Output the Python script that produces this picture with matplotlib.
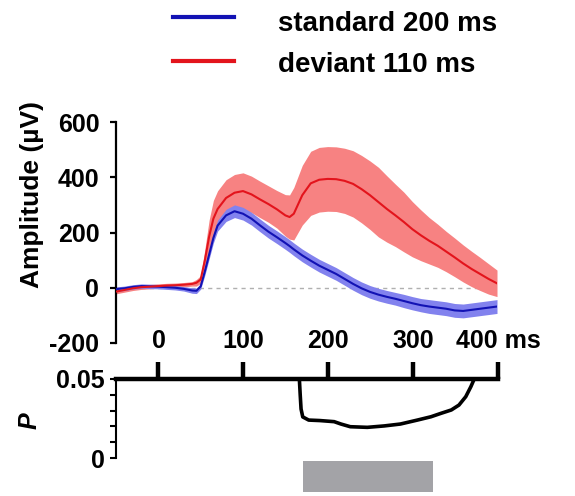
import matplotlib
matplotlib.use('Agg')
import matplotlib.pyplot as plt
from matplotlib.lines import Line2D
import numpy as np

plt.rcParams['font.family'] = ['Liberation Sans', 'DejaVu Sans']
plt.rcParams['font.weight'] = 'bold'
plt.rcParams['axes.unicode_minus'] = False

# time axis (ms)
time = [-50, -40, -30, -20, -10, 0, 10, 20, 30, 40, 45, 50, 55, 60, 65, 70,
        80, 90, 100, 110, 120, 130, 140, 150, 155, 160, 170, 180, 190, 200,
        210, 220, 230, 240, 250, 260, 270, 280, 290, 300, 310, 320, 330, 340,
        350, 360, 370, 380, 390, 400]

# standard 200 ms: mean and sem (uV)
std_mean = [-5, -2, 3, 6, 5, 4, 2, 0, -4, -10, -11, 5, 60, 120, 180, 225,
            262, 277, 268, 250, 226, 203, 183, 162, 151, 139, 117, 98, 80, 65,
            50, 32, 14, -2, -15, -25, -33, -40, -48, -56, -63, -68, -72, -76,
            -82, -84, -80, -76, -72, -68]
std_sem = [8, 8, 8, 8, 8, 8, 8, 8, 8, 10, 10, 10, 14, 16, 18, 20,
           22, 23, 23, 23, 23, 23, 23, 23, 23, 23, 23, 23, 23, 23,
           23, 23, 23, 23, 23, 23, 23, 23, 24, 24, 24, 25, 25, 25,
           25, 25, 25, 25, 25, 25]

# deviant 110 ms: mean and sem (uV)
dev_mean = [-14, -8, -2, 2, 4, 6, 8, 9, 11, 14, 18, 30, 100, 185, 250, 285,
            325, 344, 350, 338, 320, 303, 284, 262, 256, 268, 335, 378, 391, 394,
            393, 387, 376, 357, 335, 310, 285, 262, 238, 212, 190, 170, 152, 131,
            110, 88, 68, 50, 32, 16]
dev_sem = [8, 8, 8, 8, 8, 8, 8, 8, 8, 8, 12, 14, 40, 60, 66, 66,
           66, 66, 66, 66, 66, 66, 68, 75, 80, 95, 108, 116, 117, 117,
           117, 118, 120, 122, 124, 126, 120, 113, 108, 100, 92, 84, 78, 73,
           70, 67, 64, 60, 55, 48]

# p values of the difference
p_time = [166, 167, 168, 170, 177, 190, 207, 215, 226, 246, 266, 285, 305,
          321, 333, 345, 354, 362, 368, 372]
p_val = [0.050, 0.040, 0.031, 0.026, 0.024, 0.0237, 0.023, 0.0215, 0.0198,
         0.0194, 0.0203, 0.0215, 0.024, 0.0261, 0.0283, 0.0304, 0.0335,
         0.0388, 0.0451, 0.050]

# significant window (ms)
sig_start = 170
sig_end = 323

labels = ['standard 200 ms', 'deviant 110 ms']
x_ticks = [0, 100, 200, 300, 400]
x_labels = ['0', '100', '200', '300', '400 ms']
y_ticks = [-200, 0, 200, 400, 600]

blue = '#1212b4'
blue_band = '#8282ee'
red = '#e3141c'
red_band = '#f78282'

W, H = 575, 496
fig = plt.figure(figsize=(W / 100, H / 100), dpi=100)

# amplitude panel
ax = fig.add_axes([116 / W, 1 - 343 / H, 381 / W, 221 / H])
t = np.array(time)
ax.axhline(0, color='#b0b0b0', lw=1, dashes=(3, 3), zorder=0)
ax.fill_between(t, np.array(dev_mean) - dev_sem, np.array(dev_mean) + dev_sem,
                color=red_band, lw=0, zorder=1)
ax.fill_between(t, np.array(std_mean) - std_sem, np.array(std_mean) + std_sem,
                color=blue_band, lw=0, zorder=2)
ax.plot(t, std_mean, color=blue, lw=1.5, zorder=3)
ax.plot(t, dev_mean, color=red, lw=1.5, zorder=4)
ax.set_xlim(-50, 400)
ax.set_ylim(-200, 600)
for s in ['top', 'right', 'bottom']:
    ax.spines[s].set_visible(False)
ax.spines['left'].set_linewidth(1.6)
ax.set_xticks([])
ax.set_yticks(y_ticks)
ax.tick_params(axis='y', length=4, width=1.6, pad=8, labelsize=18)
ax.set_ylabel('Amplitude (µV)', fontsize=19, fontweight='bold')
ax.yaxis.set_label_coords(-0.19, 0.67)

# p-value panel
ax2 = fig.add_axes([116 / W, 1 - 458 / H, 382 / W, 79 / H])
ax2.plot(p_time, p_val, color='black', lw=2.6, solid_joinstyle='round',
         solid_capstyle='round', clip_on=False)
ax2.broken_barh([(sig_start, sig_end - sig_start)], (-0.0215, 0.0196),
                facecolors='#a3a3a7', clip_on=False)
ax2.set_xlim(-50, 400)
ax2.set_ylim(0, 0.05)
ax2.spines['right'].set_visible(False)
ax2.spines['bottom'].set_visible(False)
ax2.spines['top'].set_linewidth(3.2)
ax2.spines['left'].set_linewidth(1.5)
ax2.xaxis.tick_top()
ax2.set_xticks(x_ticks, x_labels)
ax2.tick_params(axis='x', direction='out', length=12.5, width=3.2, pad=6,
                labelsize=18)
ax2.set_yticks([0, 0.05], ['0', '0.05'])
ax2.set_yticks([0.01, 0.02, 0.03, 0.04], minor=True)
ax2.tick_params(axis='y', which='both', length=4, width=1.5, pad=4,
                labelsize=18)
ax2.set_ylabel('P', fontsize=18, fontweight='bold', style='italic')
ax2.yaxis.set_label_coords(-0.195, 0.47)

# legend
for i, (lab, col) in enumerate(zip(labels, [blue, red])):
    ly = 1 - (17 + 44 * i) / H
    fig.add_artist(Line2D([173 / W, 234 / W], [ly, ly], color=col, lw=3,
                          transform=fig.transFigure))
    fig.text(278 / W, 1 - (31 + 41 * i) / H, lab, fontsize=20,
             fontweight='bold', va='baseline')

fig.savefig('out.png', dpi=100)
